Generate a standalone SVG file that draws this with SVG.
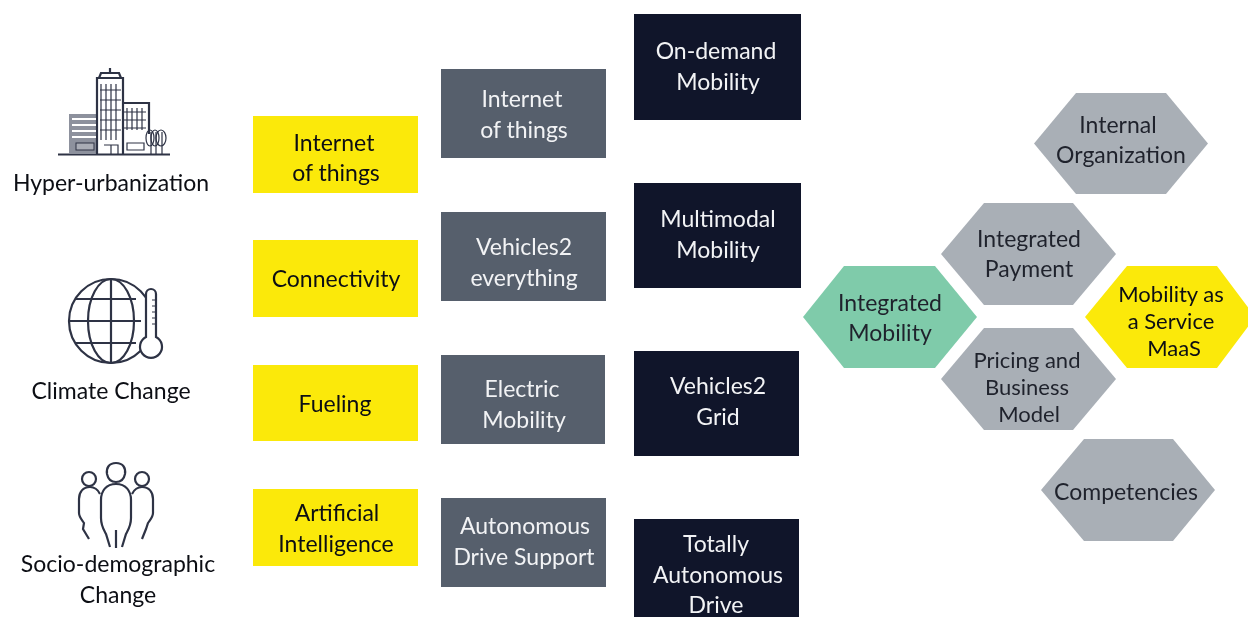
<svg xmlns="http://www.w3.org/2000/svg" width="1248" height="617" viewBox="0 0 1248 617">
<defs><filter id="soft" filterUnits="userSpaceOnUse" x="0" y="0" width="1248" height="617" color-interpolation-filters="sRGB"><feGaussianBlur stdDeviation="0.65"/></filter></defs>
<style>
text{font-family:"Lato","Liberation Sans",sans-serif;font-size:23px;text-anchor:middle}
.d{fill:#1f222c}.w{fill:#f2f3f5}.k{fill:#0c0e14}
.tight{font-size:22px}
.y{fill:#fbe90a}.s{fill:#565f6c}.n{fill:#10152a}.g{fill:#a9afb6}.m{fill:#7fcbaa}
.i{fill:none;stroke:#2e3345;stroke-width:2.2}
.t{fill:none;stroke:#2e3345;stroke-width:1.2}
</style>
<rect width="1248" height="617" fill="#fff"/>
<g filter="url(#soft)">
<g id="hyper-urbanization">
<path class="i" d="M58 154.500H170"/>
<rect x="69" y="114" width="28" height="40" fill="#8d919d"/>
<path class="i" d="M97 154V78H123V154M123 103H149V134"/>
<path class="i" d="M99 78L101 73H119L121 78M110 73V68"/>
<path d="M72 119H96M72 125H96M72 131H96M72 137H96" stroke="#fff" stroke-width="2" fill="none"/>
<rect x="76" y="143" width="18" height="7" fill="#a9acb5" stroke="#2e3345"/>
<path class="t" d="M101 84V140M106 84V140M111 84V140M116 84V140M100 90H121M100 100H121M100 110H121M100 120H121M100 130H121M127 108V130M132 108V130M137 108V130M142 108V130M124 112H146M124 120H146M124 128H146M127 143H144V150H127ZM104 145H118V154M111 145V154"/>
<path class="t" d="M151 154V132M156 154V132M162 154V132"/>
<ellipse class="t" cx="150" cy="138" rx="4" ry="8"/><ellipse class="t" cx="155" cy="138" rx="4" ry="8"/><ellipse class="t" cx="161" cy="138" rx="5" ry="8"/>
<text class="k" x="111" y="191">Hyper-urbanization</text>
</g>
<g id="climate-change">
<circle class="i" cx="111" cy="321" r="42"/>
<ellipse class="i" cx="111" cy="321" rx="23" ry="42"/>
<path class="i" d="M111 279V363M69 321H141M76 299H136M76 343H136"/>
<path fill="#fff" stroke="#2e3345" stroke-width="2.2" d="M146 294a5 5 0 0 1 10 0V337a11 11 0 1 1-10 0Z"/>
<path class="t" d="M152 300H156M152 306H156M152 312H156M152 318H156M152 324H156"/>
<text class="k" x="111" y="399">Climate Change</text>
</g>
<g id="socio-demographic-change">
<path class="i" d="M116 463c7 0 10 5 9 11c-1 5-4 8-9 8s-8-3-9-8c-1-6 2-11 9-11Z"/>
<circle class="i" cx="89" cy="479" r="7"/><circle class="i" cx="142" cy="479" r="7"/>
<path class="i" d="M116 484c-10 0-15 7-15 16v18c0 8 3 12 5 16l4 13M116 484c10 0 15 7 15 16v18c0 8-3 12-5 16l-4 13M116 530v18"/>
<path class="i" d="M100 494c-2-4-6-7-10-7c-7 0-11 5-11 12v14c0 4 3 7 5 10l-1 6l6 10M132 494c2-4 6-7 10-7c7 0 11 5 11 12v14c0 4-3 7-5 10l-2 6l-4 10"/>
<text class="k" x="118" y="572">Socio-demographic</text>
<text class="k" x="118" y="603">Change</text>
</g>
<g id="y1"><rect class="y" x="253" y="116" width="165" height="77"/><text class="k" x="334" y="151">Internet</text><text class="k" x="336" y="181">of things</text></g>
<g id="y2"><rect class="y" x="253" y="240" width="165" height="77"/><text class="k" x="336" y="287">Connectivity</text></g>
<g id="y3"><rect class="y" x="253" y="365" width="165" height="76"/><text class="k" x="335" y="412">Fueling</text></g>
<g id="y4"><rect class="y" x="253" y="489" width="165" height="77"/><text class="k" x="337" y="521">Artificial</text><text class="k" x="336" y="552">Intelligence</text></g>
<g id="s1"><rect class="s" x="441" y="69" width="165" height="89"/><text class="w" x="522" y="107">Internet</text><text class="w" x="524" y="138">of things</text></g>
<g id="s2"><rect class="s" x="441" y="212" width="165" height="89"/><text class="w" x="524" y="255">Vehicles2</text><text class="w" x="524" y="286">everything</text></g>
<g id="s3"><rect class="s" x="441" y="355" width="164" height="89"/><text class="w" x="522" y="397">Electric</text><text class="w" x="524" y="428">Mobility</text></g>
<g id="s4"><rect class="s" x="441" y="498" width="165" height="89"/><text class="w" x="525" y="534">Autonomous</text><text class="w" x="524" y="565">Drive Support</text></g>
<g id="n1"><rect class="n" x="634" y="14" width="167" height="106"/><text class="w" x="716" y="59">On-demand</text><text class="w" x="718" y="90">Mobility</text></g>
<g id="n2"><rect class="n" x="634" y="183" width="167" height="105"/><text class="w" x="718" y="227">Multimodal</text><text class="w" x="718" y="258">Mobility</text></g>
<g id="n3"><rect class="n" x="634" y="351" width="165" height="105"/><text class="w" x="718" y="394">Vehicles2</text><text class="w" x="718" y="425">Grid</text></g>
<g id="n4"><rect class="n" x="634" y="519" width="165" height="98"/><text class="w" x="716" y="552">Totally</text><text class="w" x="718" y="583">Autonomous</text><text class="w" x="716" y="613">Drive</text></g>
<g id="internal-organization"><polygon class="g" points="1034,143.500 1076,93 1166,93 1208,143.500 1166,194 1076,194"/><text class="d" x="1118" y="133">Internal</text><text class="d" x="1121" y="163">Organization</text></g>
<g id="integrated-payment"><polygon class="g" points="941,254 984,203 1073,203 1116,254 1073,305 984,305"/><text class="d" x="1029" y="247">Integrated</text><text class="d" x="1029" y="277">Payment</text></g>
<g id="integrated-mobility"><polygon class="m" points="803,317 844,266 935,266 977,317 935,368 844,368"/><text class="d" x="890" y="311">Integrated</text><text class="d" x="890" y="341">Mobility</text></g>
<g id="maas"><polygon class="y" points="1085,317 1127,266 1217,266 1250,310 1250,324 1217,368 1127,368"/><text class="k tight" x="1171" y="302">Mobility as</text><text class="k tight" x="1171" y="329">a Service</text><text class="k tight" x="1174" y="356">MaaS</text></g>
<g id="pricing"><polygon class="g" points="941,379 984,328 1073,328 1116,379 1073,430 984,430"/><text class="d tight" x="1027" y="368">Pricing and</text><text class="d tight" x="1027" y="395">Business</text><text class="d tight" x="1029" y="422">Model</text></g>
<g id="competencies"><polygon class="g" points="1041,490 1084,439 1173,439 1215,490 1173,541 1084,541"/><text class="d" x="1126" y="500">Competencies</text></g>
<g id="connectors"></g>
</g>
</svg>
